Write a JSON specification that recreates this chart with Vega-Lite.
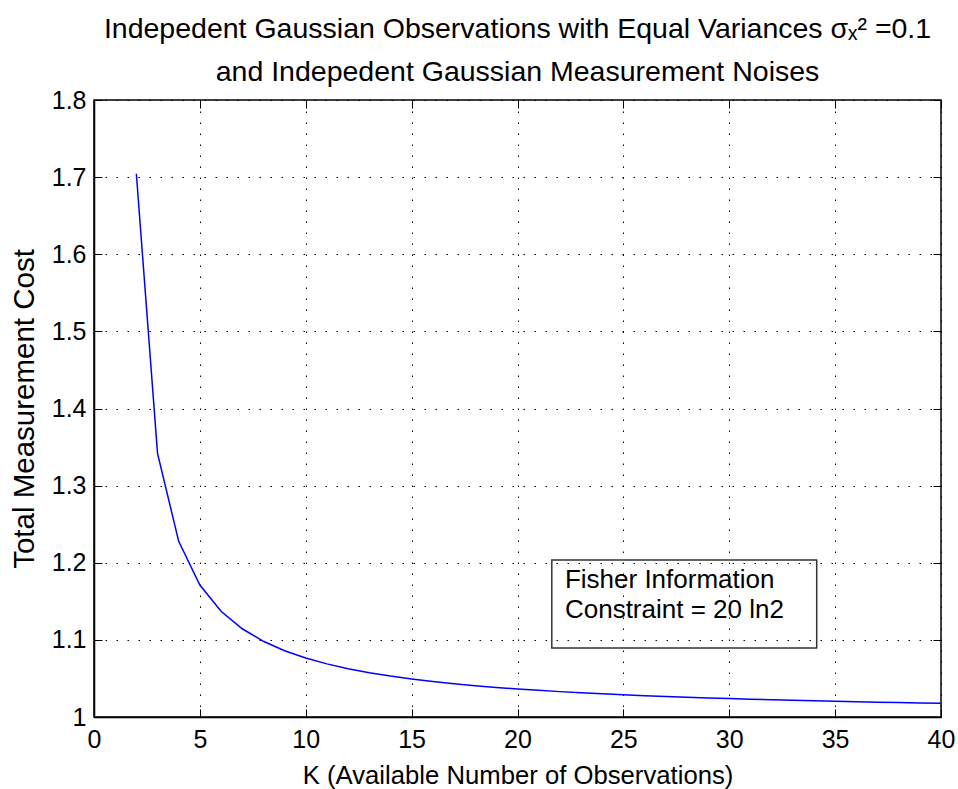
{
  "$schema": "https://vega.github.io/schema/vega-lite/v6.json",
  "autosize": "none",
  "width": 847,
  "height": 617,
  "padding": {"left": 94, "top": 100, "right": 17, "bottom": 72},
  "background": "white",
  "config": {
    "font": "Liberation Sans",
    "view": {"stroke": "black", "strokeWidth": 1.5},
    "axis": {"labelFont": "Liberation Sans", "titleFont": "Liberation Sans", "labelColor": "black", "titleColor": "black", "titleFontWeight": "normal"}
  },
  "title": {
    "text": ["Indepedent Gaussian Observations with Equal Variances σₓ² =0.1", "and Indepedent Gaussian Measurement Noises"],
    "fontSize": 28.5,
    "fontWeight": "normal",
    "font": "Liberation Sans",
    "color": "black",
    "lineHeight": 43,
    "anchor": "middle",
    "offset": 2
  },
  "datasets": {
    "cost": [
      {"K": 2, "cost": 1.70434}, {"K": 3, "cost": 1.34181}, {"K": 4, "cost": 1.22780}, {"K": 5, "cost": 1.17112},
      {"K": 6, "cost": 1.13711}, {"K": 7, "cost": 1.11440}, {"K": 8, "cost": 1.09816}, {"K": 9, "cost": 1.08597},
      {"K": 10, "cost": 1.07647}, {"K": 11, "cost": 1.06886}, {"K": 12, "cost": 1.06264}, {"K": 13, "cost": 1.05744},
      {"K": 14, "cost": 1.05304}, {"K": 15, "cost": 1.04927}, {"K": 16, "cost": 1.04600}, {"K": 17, "cost": 1.04314},
      {"K": 18, "cost": 1.04061}, {"K": 19, "cost": 1.03836}, {"K": 20, "cost": 1.03635}, {"K": 21, "cost": 1.03454},
      {"K": 22, "cost": 1.03290}, {"K": 23, "cost": 1.03141}, {"K": 24, "cost": 1.03004}, {"K": 25, "cost": 1.02880},
      {"K": 26, "cost": 1.02765}, {"K": 27, "cost": 1.02659}, {"K": 28, "cost": 1.02560}, {"K": 29, "cost": 1.02469},
      {"K": 30, "cost": 1.02384}, {"K": 31, "cost": 1.02305}, {"K": 32, "cost": 1.02231}, {"K": 33, "cost": 1.02161},
      {"K": 34, "cost": 1.02096}, {"K": 35, "cost": 1.02034}, {"K": 36, "cost": 1.01976}, {"K": 37, "cost": 1.01922},
      {"K": 38, "cost": 1.01870}, {"K": 39, "cost": 1.01821}, {"K": 40, "cost": 1.01774}
    ],
    "box": [{"x1": 21.62, "x2": 34.13, "y1": 1.0895, "y2": 1.2036}],
    "notes": [
      {"x": 22.24, "y": 1.1673, "label": "Fisher Information"},
      {"x": 22.24, "y": 1.1284, "label": "Constraint = 20 ln2"}
    ]
  },
  "layer": [
    {
      "data": {"name": "cost"},
      "mark": {"type": "line", "color": "#0000ff", "strokeWidth": 1.5, "clip": true},
      "encoding": {
        "x": {
          "field": "K", "type": "quantitative",
          "scale": {"domain": [0, 40], "nice": false, "zero": false},
          "axis": {
            "orient": "bottom", "title": "K (Available Number of Observations)", "titleFontSize": 25.7, "titlePadding": 11,
            "values": [0, 5, 10, 15, 20, 25, 30, 35, 40], "labelFontSize": 25, "labelPadding": 18, "labelFlush": false,
            "tickSize": -8, "tickColor": "black", "tickWidth": 1,
            "domainColor": "black", "domainWidth": 1.5,
            "grid": true, "gridColor": "black", "gridDash": [1.5, 9.5], "gridWidth": 1, "gridOpacity": 1
          }
        },
        "y": {
          "field": "cost", "type": "quantitative",
          "scale": {"domain": [1, 1.8], "nice": false, "zero": false},
          "axis": {
            "orient": "left", "title": "Total Measurement Cost", "titleFontSize": 29.5, "titlePadding": 12,
            "values": [1, 1.1, 1.2, 1.3, 1.4, 1.5, 1.6, 1.7, 1.8], "format": ".2~f", "labelFontSize": 25, "labelPadding": 16, "labelFlush": false,
            "tickSize": -8, "tickColor": "black", "tickWidth": 1,
            "domainColor": "black", "domainWidth": 1.5,
            "grid": true, "gridColor": "black", "gridDash": [1.5, 9.5], "gridWidth": 1, "gridOpacity": 1
          }
        }
      }
    },
    {
      "data": {"name": "cost"},
      "mark": {"type": "point", "opacity": 0},
      "encoding": {
        "x": {
          "field": "K", "type": "quantitative",
          "axis": {"orient": "top", "title": null, "labels": false, "values": [0, 5, 10, 15, 20, 25, 30, 35, 40], "tickSize": -8, "tickColor": "black", "domain": false, "grid": false}
        },
        "y": {
          "field": "cost", "type": "quantitative",
          "axis": {"orient": "right", "title": null, "labels": false, "values": [1, 1.1, 1.2, 1.3, 1.4, 1.5, 1.6, 1.7, 1.8], "tickSize": -8, "tickColor": "black", "domain": false, "grid": false}
        }
      }
    },
    {
      "data": {"name": "box"},
      "mark": {"type": "rect", "fill": null, "fillOpacity": 0, "stroke": "#333333", "strokeWidth": 1.5},
      "encoding": {
        "x": {"field": "x1", "type": "quantitative", "axis": null},
        "x2": {"field": "x2"},
        "y": {"field": "y1", "type": "quantitative", "axis": null},
        "y2": {"field": "y2"}
      }
    },
    {
      "data": {"name": "notes"},
      "mark": {"type": "text", "align": "left", "baseline": "alphabetic", "fontSize": 26, "font": "Liberation Sans", "color": "black"},
      "encoding": {
        "x": {"field": "x", "type": "quantitative", "axis": null},
        "y": {"field": "y", "type": "quantitative", "axis": null},
        "text": {"field": "label"}
      }
    }
  ]
}
